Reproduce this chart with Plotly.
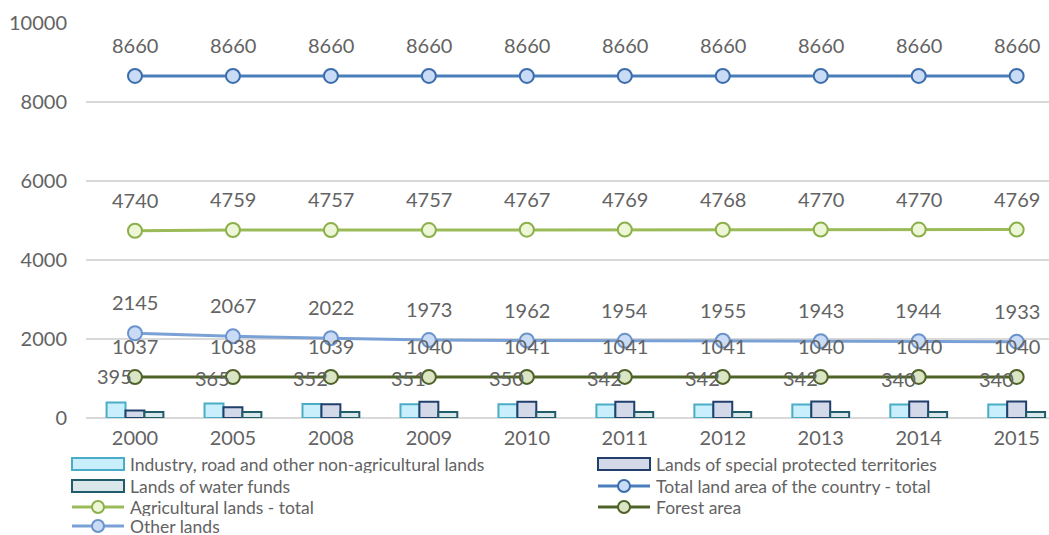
import plotly.graph_objects as go

# ---- data -------------------------------------------------------------
years = ["2000", "2005", "2008", "2009", "2010", "2011", "2012", "2013", "2014", "2015"]

industry_lands = [395, 365, 352, 351, 350, 342, 342, 342, 340, 340]
protected_lands = [190, 270, 345, 410, 410, 410, 410, 415, 415, 420]
water_funds = [150, 150, 150, 150, 150, 150, 150, 150, 150, 150]

total_area = [8660, 8660, 8660, 8660, 8660, 8660, 8660, 8660, 8660, 8660]
agricultural = [4740, 4759, 4757, 4757, 4767, 4769, 4768, 4770, 4770, 4769]
forest_area = [1037, 1038, 1039, 1040, 1041, 1041, 1041, 1040, 1040, 1040]
other_lands = [2145, 2067, 2022, 1973, 1962, 1954, 1955, 1943, 1944, 1933]

y_ticks = [0, 2000, 4000, 6000, 8000, 10000]

# ---- layout constants -------------------------------------------------
W, H = 1049, 535
ML, MR, MT, MB = 86, 0, 23, 117
FONT = "Lato"
GREY = "#636363"
LABEL_SIZE = 20
LEGEND_SIZE = 17.5


def px_x(px):
    return (px - ML) / (W - ML - MR)


def px_y(py):
    return (H - MB - py) / (H - MT - MB)


bar_styles = [
    ("Industry, road and other non-agricultural lands", industry_lands, "#c8effb", "#4bacc6"),
    ("Lands of special protected territories", protected_lands, "#d3d9e8", "#203f6b"),
    ("Lands of water funds", water_funds, "#d9e7eb", "#215c6b"),
]

line_styles = [
    ("Total land area of the country - total", total_area, "#4a7ebb", "#c9dbf5", "#3b6cab"),
    ("Agricultural lands - total", agricultural, "#9bbb59", "#eef6d8", "#8bb04a"),
    ("Forest area", forest_area, "#4f6228", "#dbe5c4", "#4f6228"),
    ("Other lands", other_lands, "#7aa1d6", "#c9dbf5", "#6a93cc"),
]

fig = go.Figure()

for name, vals, fill, edge in bar_styles:
    fig.add_trace(go.Bar(
        x=years, y=vals, name=name,
        marker=dict(color=fill, line=dict(color=edge, width=2)),
        showlegend=False,
    ))

for name, vals, lc, mfill, medge in line_styles:
    fig.add_trace(go.Scatter(
        x=years, y=vals, name=name, mode="lines+markers",
        line=dict(color=lc, width=3),
        marker=dict(size=14, color=mfill, line=dict(color=medge, width=2)),
        showlegend=False,
    ))

annotations = []
# value labels above each line point (x given as category index)
for name, vals, *_ in line_styles:
    for i, v in enumerate(vals):
        annotations.append(dict(
            x=i, y=v, xref="x", yref="y", text=str(v), showarrow=False, yshift=31,
            xanchor="center", yanchor="middle",
            font=dict(family=FONT, size=LABEL_SIZE, color=GREY),
        ))
# industry bar labels
for i, v in enumerate(industry_lands):
    annotations.append(dict(
        x=i, y=v, xref="x", yref="y", text=str(v), showarrow=False, yshift=26, xshift=-20,
        xanchor="center", yanchor="middle",
        font=dict(family=FONT, size=LABEL_SIZE, color=GREY),
    ))

# ---- legend (two columns below the plot) ------------------------------
shapes = []
legend_items = [
    ("bar", bar_styles[0]), ("bar", bar_styles[1]),
    ("bar", bar_styles[2]), ("line", line_styles[0]),
    ("line", line_styles[1]), ("line", line_styles[2]),
    ("line", line_styles[3]),
]
col_x = [72, 598]
row_y = [464, 486, 507, 526]
sym_w = 52
for i, (kind, style) in enumerate(legend_items):
    cx = col_x[i % 2]
    cy = row_y[i // 2]
    if kind == "bar":
        name, _, fill, edge = style
        shapes.append(dict(
            type="rect", xref="paper", yref="paper",
            x0=px_x(cx), x1=px_x(cx + sym_w), y0=px_y(cy + 6), y1=px_y(cy - 6),
            fillcolor=fill, line=dict(color=edge, width=2),
        ))
    else:
        name, _, lc, mfill, medge = style
        shapes.append(dict(
            type="line", xref="paper", yref="paper",
            x0=px_x(cx), x1=px_x(cx + sym_w), y0=px_y(cy), y1=px_y(cy),
            line=dict(color=lc, width=3),
        ))
        shapes.append(dict(
            type="circle", xref="paper", yref="paper",
            xsizemode="pixel", ysizemode="pixel",
            xanchor=px_x(cx + sym_w / 2), yanchor=px_y(cy),
            x0=-6, x1=6, y0=-6, y1=6,
            fillcolor=mfill, line=dict(color=medge, width=2),
        ))
    annotations.append(dict(
        xref="paper", yref="paper", x=px_x(cx + sym_w + 5), y=px_y(cy),
        text=name, showarrow=False, xanchor="left", yanchor="middle",
        borderpad=0, height=18, valign="middle",
        font=dict(family=FONT, size=LEGEND_SIZE, color=GREY),
    ))

fig.update_layout(
    width=W, height=H,
    margin=dict(l=ML, r=MR, t=MT, b=MB),
    paper_bgcolor="white", plot_bgcolor="white",
    barmode="group", bargap=0.42, bargroupgap=0,
    showlegend=False,
    font=dict(family=FONT, size=LABEL_SIZE, color=GREY),
    annotations=annotations, shapes=shapes,
    xaxis=dict(
        type="category", range=[-0.5, 9.33],
        showgrid=False, showline=False, zeroline=False, ticks="",
        tickfont=dict(family=FONT, size=LABEL_SIZE, color=GREY),
        ticklabelstandoff=6,
    ),
    yaxis=dict(
        range=[0, 10000], tickvals=y_ticks, tickformat="d",
        showgrid=True, gridcolor="#d9d9d9", gridwidth=1.5,
        zeroline=True, zerolinecolor="#d9d9d9", zerolinewidth=1.5,
        showline=False, ticks="",
        tickfont=dict(family=FONT, size=LABEL_SIZE, color=GREY),
        ticklabelstandoff=18,
    ),
)

fig.write_html("out.html")
